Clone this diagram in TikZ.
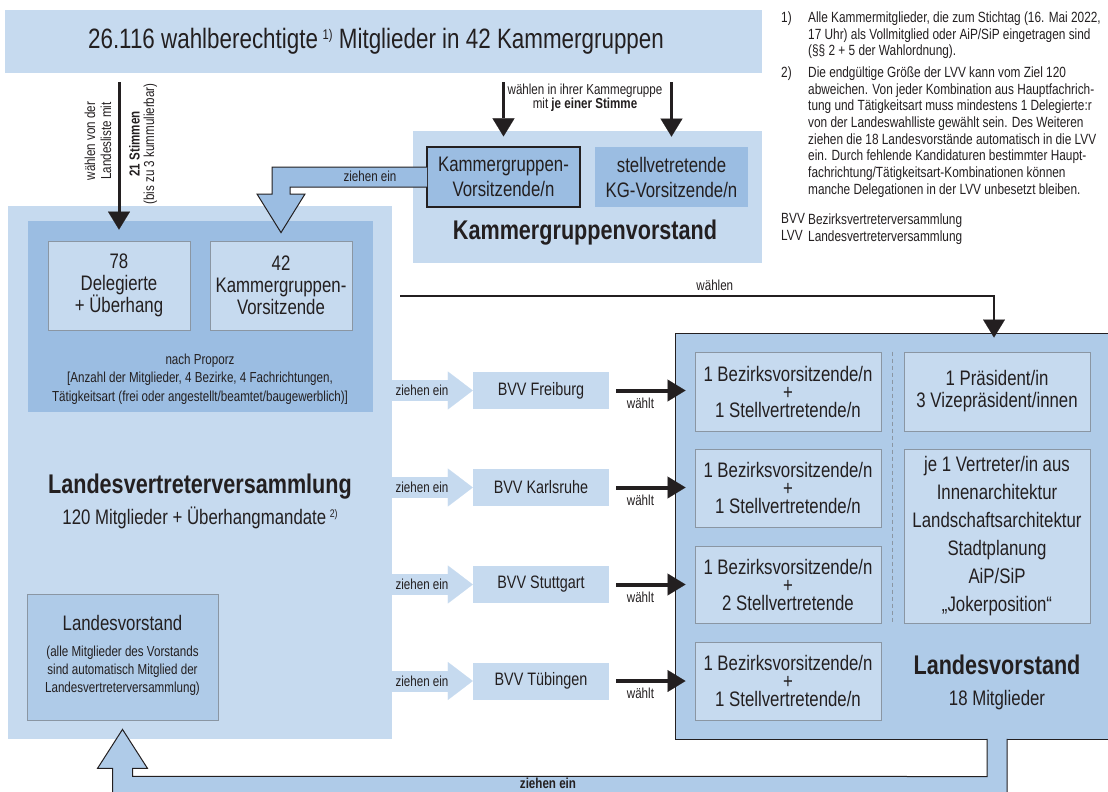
\documentclass[tikz,border=0pt]{standalone}
\usepackage{fontspec}
\setmainfont{Liberation Sans}[FakeStretch=0.8]
\usetikzlibrary{arrows.meta,calc}

\definecolor{lvvlight}{HTML}{C6DAEF}
\definecolor{lvvdark}{HTML}{9BBDE2}
\definecolor{lvvmid}{HTML}{AFCBE8}
\definecolor{boxline}{HTML}{8A96A3}
\definecolor{ink}{HTML}{231F20}

\newcommand{\fstitle}{\fontsize{28}{30}\selectfont}
\newcommand{\fsmid}{\fontsize{21}{22}\selectfont}
\newcommand{\fsbvv}{\fontsize{18}{20}\selectfont}
\newcommand{\fssmall}{\fontsize{14.5}{16.7}\selectfont}
\newcommand{\fsnote}{\fontsize{14.8}{16.7}\selectfont}
\newcommand{\fsbold}{\fontsize{27}{30}\selectfont\bfseries}

\tikzstyle{flatbox}=[rectangle, inner sep=0pt, fill=lvvlight]
\tikzstyle{memberbox}=[rectangle, inner sep=0pt, fill=lvvlight, draw=boxline,
                       line width=0.8pt, align=center, font=\fsmid]
\tikzstyle{votearrow}=[draw=ink, line width=3pt,
                       -{Triangle[length=18pt,width=22pt,line width=0.1pt]}]
\tikzstyle{electarrow}=[draw=ink, line width=4pt,
                        -{Triangle[length=18pt,width=22pt,line width=0.1pt]}]
\tikzstyle{feedarrow}=[draw=lvvlight, line width=21pt,
                       -{Triangle[length=25pt,width=38pt,line width=0.1pt]}]
\tikzstyle{fatoutline}=[draw=ink, line width=1pt, line join=miter]

\begin{document}
\begin{tikzpicture}[x=1pt,y=-1pt,every node/.style={text=ink}]
  \tikzstyle{smalltext}=[font=\fssmall, align=center, inner sep=1pt]
  \tikzstyle{midtext}=[font=\fsmid, align=center, inner sep=1pt]
  \tikzstyle{boldtext}=[font=\fsbold, inner sep=1pt]
  \tikzstyle{notetext}=[font=\fsnote, align=left, inner sep=0pt, anchor=north west]
  \useasboundingbox (0,0) rectangle (1108,792);

  % top row
  \node[flatbox, minimum width=757, minimum height=63] (banner) at (383.5,41.5) {};
  \node[font=\fstitle] (bannertext) at (376,41) {26.116 wahlberechtigte\,\raisebox{9pt}{\fontsize{14}{14}\selectfont 1)} Mitglieder in 42 Kammergruppen};
  \node[flatbox, minimum width=349, minimum height=132] (kgvst) at (587.5,197) {};
  \node[memberbox, fill=lvvdark, draw=ink, line width=1.2pt, minimum width=153, minimum height=60,
        font=\fontsize{21}{25}\selectfont] (kgv) at (503.5,177) {Kammergruppen-\\Vorsitzende/n};
  \node[memberbox, fill=lvvdark, draw=none, minimum width=153, minimum height=60,
        font=\fontsize{21}{25}\selectfont] (kgstv) at (671.5,177) {stellvetretende\\KG-Vorsitzende/n};
  \node[boldtext] (kgvstlabel) at (585,233) {Kammergruppenvorstand};
  \draw[votearrow] ($(banner.south -| kgv.north)+(0,9)$) -- ($(kgv.north)+(0,-10)$);
  \draw[votearrow] ($(banner.south -| kgstv.north)+(0,9)$) -- ($(kgstv.north)+(0,-10)$);
  \node[smalltext, font=\fontsize{14.5}{14}\selectfont] (kglabel) at (585,98) {wählen in ihrer Kammegruppe\\mit \textbf{je einer Stimme}};

  % Landesvertreterversammlung
  \node[flatbox, minimum width=384, minimum height=533] (lvv) at (200,472.5) {};
  \node[flatbox, fill=lvvdark, minimum width=345, minimum height=191] (lvvin) at (200.5,316.5) {};
  \node[memberbox, minimum width=142, minimum height=89] (del) at (119,285.5) {78\\Delegierte\\+ Überhang};
  \node[memberbox, minimum width=142, minimum height=89] (kg42) at (281,285.5) {42\\Kammergruppen-\\Vorsitzende};
  \node[smalltext, font=\fontsize{14.5}{18.5}\selectfont] (proporz) at (200,379) {nach Proporz\\{}[Anzahl der Mitglieder, 4 Bezirke, 4 Fachrichtungen,\\Tätigkeitsart (frei oder angestellt/beamtet/baugewerblich)]};
  \node[boldtext] (lvvtitle) at (200,487) {Landesvertreterversammlung};
  \node[midtext] (lvvsub) at (200,518) {120 Mitglieder + Überhangmandate\,\raisebox{7pt}{\fontsize{11}{11}\selectfont 2)}};
  \draw[votearrow] ($(banner.south -| del.north)+(0,9)$) -- ($(del.north)+(0,-11)$);
  \node[smalltext, rotate=90, font=\fontsize{14.5}{16}\selectfont] (listlabel) at (98,141) {wählen von der\\Landesliste mit};
  \node[smalltext, rotate=90, font=\fontsize{14.5}{14.5}\selectfont] (stimmenlabel) at (143,144) {\textbf{21 Stimmen}\\(bis zu 3 kummulierbar)};
  \node[memberbox, fill=lvvmid, minimum width=191, minimum height=126] (lvsmall) at (122.5,657) {};
  \node[midtext] (lvsmalltitle) at (122.5,623) {Landesvorstand};
  \node[smalltext, font=\fontsize{14.5}{18}\selectfont] (lvsmalltext) at (122.5,671) {(alle Mitglieder des Vorstands\\sind automatisch Mitglied der\\Landesvertreterversammlung)};

  % Kammergruppen-Vorsitzende ziehen ein
  \coordinate (kgbend) at (kg42.north |- kgv.west);
  \draw[fatoutline, fill=lvvdark] ($(kgv.west)+(0.6,-10)$) -- ($(kgbend)+(-9,-10)$) -- ($(kgbend)+(-9,17)$)
    -- ($(kgbend)+(-24,17)$) -- ($(kg42.north)+(0,-8)$) -- ($(kgbend)+(24,17)$) -- ($(kgbend)+(9,17)$)
    -- ($(kgbend)+(9,10)$) -- ($(kgv.west)+(0.6,10)$);
  \node[smalltext] (kgzieht) at (370,176) {ziehen ein};

  % Landesvorstand
  \node[flatbox, fill=lvvmid, draw=ink, line width=1pt, minimum width=440, minimum height=406] (lvbig) at (895,536) {};
  \node[memberbox, minimum width=186, minimum height=79, font=\fontsize{21}{18}\selectfont] (bfr) at (788,391.5) {1 Bezirksvorsitzende/n\\+\\1 Stellvertretende/n};
  \node[memberbox, minimum width=186, minimum height=78, font=\fontsize{21}{18}\selectfont] (bka) at (788,488) {1 Bezirksvorsitzende/n\\+\\1 Stellvertretende/n};
  \node[memberbox, minimum width=186, minimum height=77, font=\fontsize{21}{18}\selectfont] (bst) at (788,584.5) {1 Bezirksvorsitzende/n\\+\\2 Stellvertretende};
  \node[memberbox, minimum width=186, minimum height=78, font=\fontsize{21}{18}\selectfont] (btu) at (788,681) {1 Bezirksvorsitzende/n\\+\\1 Stellvertretende/n};
  \node[memberbox, minimum width=186, minimum height=79, font=\fontsize{21}{22}\selectfont] (praes) at (997,391.5) {1 Präsident/in\\3 Vizepräsident/innen};
  \node[memberbox, minimum width=186, minimum height=174, font=\fontsize{21}{28}\selectfont] (verw) at (997,536) {je 1 Vertreter/in aus\\Innenarchitektur\\Landschaftsarchitektur\\Stadtplanung\\AiP/SiP\\„Jokerposition“};
  \draw[boxline, line width=0.8pt, dash pattern=on 4pt off 3pt] ($(bfr.north east)!0.5!(praes.north west)$) -- ($(bst.south east)!0.5!(verw.south west)$);
  \node[boldtext] (lvbigtitle) at (997,665) {Landesvorstand};
  \node[midtext] (lvbigtext) at (997,700) {18 Mitglieder};

  % Bezirksvertreterversammlungen
  \node[flatbox, minimum width=136, minimum height=37, font=\fsbvv] (fr) at (541,390.5) {BVV Freiburg};
  \node[flatbox, minimum width=136, minimum height=37, font=\fsbvv] (ka) at (541,487.5) {BVV Karlsruhe};
  \node[flatbox, minimum width=136, minimum height=37, font=\fsbvv] (st) at (541,584.5) {BVV Stuttgart};
  \node[flatbox, minimum width=136, minimum height=37, font=\fsbvv] (tu) at (541,681) {BVV Tübingen};
  \draw[feedarrow] (lvv.east |- fr) -- node[smalltext, pos=0.37] (zfr) {ziehen ein} (fr.west);
  \draw[feedarrow] (lvv.east |- ka) -- node[smalltext, pos=0.37] (zka) {ziehen ein} (ka.west);
  \draw[feedarrow] (lvv.east |- st) -- node[smalltext, pos=0.37] (zst) {ziehen ein} (st.west);
  \draw[feedarrow] (lvv.east |- tu) -- node[smalltext, pos=0.37] (ztu) {ziehen ein} (tu.west);
  \draw[electarrow] ($(fr.east)+(7,0)$) -- node[smalltext, pos=0.35, below=4pt] (wfr) {wählt} ($(fr.east -| lvbig.west)+(11,0)$);
  \draw[electarrow] ($(ka.east)+(7,0)$) -- node[smalltext, pos=0.35, below=4pt] (wka) {wählt} ($(ka.east -| lvbig.west)+(11,0)$);
  \draw[electarrow] ($(st.east)+(7,0)$) -- node[smalltext, pos=0.35, below=4pt] (wst) {wählt} ($(st.east -| lvbig.west)+(11,0)$);
  \draw[electarrow] ($(tu.east)+(7,0)$) -- node[smalltext, pos=0.35, below=4pt] (wtu) {wählt} ($(tu.east -| lvbig.west)+(11,0)$);

  % LVV waehlt Praesidium
  \coordinate (wstart) at (400,296);
  \draw[votearrow, line width=2.5pt] (wstart) -- node[smalltext, pos=0.53, above=3pt] (wlabel) {wählen} ($(praes.north |- wstart)+(-3,0)$) -- ($(praes.north |- lvbig.north)+(-3,5)$);

  % Landesvorstand zieht in LVV ein
  \coordinate (bright) at (praes.south |- lvbig.south);
  \coordinate (bleft) at (lvsmall.south);
  \draw[fatoutline, fill=lvvmid] ($(bright)+(10,-0.7)$) -- ($(bright)+(10,57)$) -- ($(bleft |- bright)+(-10,57)$)
    -- ($(bleft)+(-10,48)$) -- ($(bleft)+(-25,48)$) -- ($(bleft)+(0,9)$) -- ($(bleft)+(25,48)$)
    -- ($(bleft)+(10,48)$) -- ($(bleft)+(10,56)$) -- ($(bright)+(-10,37)$) -- ($(bright)+(-10,-0.7)$);
  \node[smalltext, font=\bfseries\fssmall] (bottomlabel) at (548,783) {ziehen ein};

  % Fussnoten
  \node[notetext] (n1num) at (781,11.5) {1)};
  \node[notetext] (n1) at (808,11.5) {Alle Kammermitglieder, die zum Stichtag (16. Mai 2022,\\17 Uhr) als Vollmitglied oder AiP/SiP eingetragen sind\\(§§ 2 + 5 der Wahlordnung).};
  \node[notetext] (n2num) at (781,66.5) {2)};
  \node[notetext] (n2) at (808,66.5) {Die endgültige Größe der LVV kann vom Ziel 120\\abweichen. Von jeder Kombination aus Hauptfachrich-\\tung und Tätigkeitsart muss mindestens 1 Delegierte:r\\von der Landeswahlliste gewählt sein. Des Weiteren\\ziehen die 18 Landesvorstände automatisch in die LVV\\ein. Durch fehlende Kandidaturen bestimmter Haupt-\\fachrichtung/Tätigkeitsart-Kombinationen können\\manche Delegationen in der LVV unbesetzt bleiben.};
  \node[notetext] (n3num) at (781,213.5) {BVV};
  \node[notetext] (n3) at (808,213.5) {Bezirksvertreterversammlung};
  \node[notetext] (n4num) at (781,230.5) {LVV};
  \node[notetext] (n4) at (808,230.5) {Landesvertreterversammlung};
\end{tikzpicture}
\end{document}
